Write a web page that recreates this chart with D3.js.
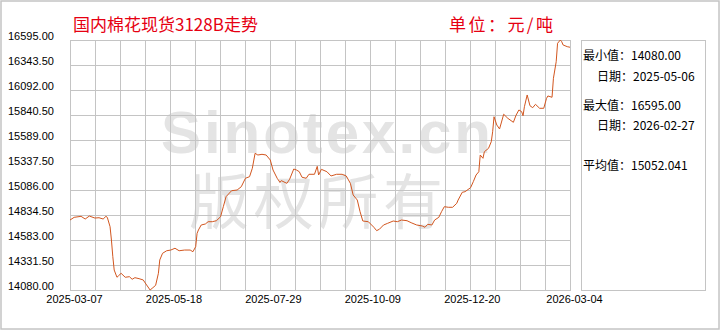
<!DOCTYPE html>
<html lang="zh">
<head>
    <meta charset="UTF-8">
    <title>国内棉花现货3128B走势</title>
    <style>
        body {
            margin: 0;
            background: #fff;
        }
        svg text {
            font-family: "Liberation Sans", Arial, sans-serif;
        }
        .cjk {
            font-family: "Noto Sans CJK SC", "Noto Sans", sans-serif !important;
        }
    </style>
</head>
<body>
    <div id="chart"></div>

    <script src="https://d3js.org/d3.v7.min.js"></script>
    <script>
        // 价格数据（日期 / 元每吨）
        const dates = [
            '2025-03-07', '2025-03-10', '2025-03-15', '2025-03-18', '2025-03-21', '2025-03-25', '2025-03-28', '2025-03-31',
            '2025-04-02', '2025-04-03', '2025-04-05', '2025-04-06', '2025-04-07', '2025-04-08', '2025-04-10', '2025-04-11',
            '2025-04-13', '2025-04-16', '2025-04-19', '2025-04-21', '2025-04-23', '2025-04-26', '2025-04-29', '2025-05-01',
            '2025-05-04', '2025-05-06', '2025-05-08', '2025-05-10', '2025-05-11', '2025-05-13', '2025-05-16', '2025-05-19',
            '2025-05-22', '2025-05-25', '2025-05-29', '2025-06-02', '2025-06-04', '2025-06-06', '2025-06-07', '2025-06-08',
            '2025-06-10', '2025-06-13', '2025-06-15', '2025-06-18', '2025-06-21', '2025-06-24', '2025-06-26', '2025-06-28',
            '2025-07-02', '2025-07-06', '2025-07-09', '2025-07-12', '2025-07-15', '2025-07-17', '2025-07-19', '2025-07-21',
            '2025-07-24', '2025-07-27', '2025-07-30', '2025-08-01', '2025-08-04', '2025-08-06', '2025-08-07', '2025-08-11',
            '2025-08-13', '2025-08-16', '2025-08-18', '2025-08-20', '2025-08-22', '2025-08-25', '2025-08-27', '2025-08-31',
            '2025-09-02', '2025-09-03', '2025-09-05', '2025-09-09', '2025-09-12', '2025-09-16', '2025-09-20', '2025-09-23',
            '2025-09-26', '2025-09-28', '2025-10-01', '2025-10-03', '2025-10-05', '2025-10-09', '2025-10-13', '2025-10-15',
            '2025-10-17', '2025-10-20', '2025-10-23', '2025-10-27', '2025-10-30', '2025-11-02', '2025-11-06', '2025-11-09',
            '2025-11-13', '2025-11-17', '2025-11-19', '2025-11-21', '2025-11-24', '2025-11-26', '2025-11-29', '2025-12-01',
            '2025-12-03', '2025-12-06', '2025-12-09', '2025-12-12', '2025-12-13', '2025-12-16', '2025-12-18', '2025-12-22',
            '2025-12-24', '2025-12-26', '2025-12-28', '2025-12-29', '2025-12-31', '2026-01-01', '2026-01-04', '2026-01-06',
            '2026-01-07', '2026-01-08', '2026-01-10', '2026-01-12', '2026-01-15', '2026-01-18', '2026-01-22', '2026-01-24',
            '2026-01-26', '2026-01-28', '2026-01-29', '2026-01-30', '2026-02-01', '2026-02-03', '2026-02-05', '2026-02-07',
            '2026-02-10', '2026-02-13', '2026-02-15', '2026-02-16', '2026-02-19', '2026-02-20', '2026-02-22', '2026-02-23',
            '2026-02-25', '2026-02-26', '2026-02-27', '2026-03-02', '2026-03-04'
        ];
        const prices = [
            14784, 14811, 14821, 14794, 14824, 14804, 14807, 14794,
            14821, 14811, 14717, 14583, 14415, 14281, 14208, 14221,
            14248, 14208, 14214, 14188, 14204, 14194, 14181, 14140,
            14080, 14103, 14127, 14248, 14382, 14449, 14475, 14482,
            14500, 14475, 14482, 14482, 14465, 14516, 14650, 14684,
            14734, 14744, 14767, 14767, 14777, 14817, 14918, 15019,
            15079, 15086, 15119, 15204, 15220, 15304, 15455, 15438,
            15445, 15438, 15388, 15287, 15204, 15163, 15180, 15153,
            15194, 15297, 15287, 15270, 15214, 15204, 15244, 15244,
            15324, 15237, 15294, 15270, 15227, 15244, 15244, 15227,
            15153, 15036, 14985, 14868, 14774, 14767, 14711, 14677,
            14691, 14734, 14751, 14774, 14767, 14784, 14777, 14757,
            14734, 14724, 14711, 14741, 14734, 14784, 14811, 14868,
            14918, 14912, 14912, 14952, 14985, 15063, 15069, 15109,
            15170, 15237, 15270, 15438, 15405, 15471, 15505, 15572,
            15672, 15823, 15740, 15700, 15848, 15807, 15767, 15840,
            15891, 15874, 15833, 15924, 16042, 15934, 15914, 15948,
            15908, 15908, 16008, 16032, 16019, 16210, 16377, 16562,
            16595, 16578, 16545, 16528, 16522
        ];

        const yTicks = [16595.00, 16343.50, 16092.00, 15840.50, 15589.00, 15337.50,
                        15086.00, 14834.50, 14583.00, 14331.50, 14080.00];
        const xTickDates = ['2025-03-07', '2025-05-18', '2025-07-29', '2025-10-09', '2025-12-20', '2026-03-04'];

        const statLabels = ['最小值：14080.00', '日期：2025-05-06', '最大值：16595.00', '日期：2026-02-27', '平均值：15052.041'];

        const W = 720, H = 330;
        const plot = {left: 70, right: 570, top: 40, bottom: 290};
        const parse = d3.timeParse('%Y-%m-%d');
        const data = dates.map((d, i) => ({date: parse(d), value: prices[i]}));

        const svg = d3.select('#chart')
                      .append('svg')
                      .attr('width', W)
                      .attr('height', H);

        // 外框
        svg.append('rect')
           .attr('x', 1).attr('y', 1)
           .attr('width', W - 2).attr('height', H - 2)
           .attr('fill', 'none')
           .attr('stroke', '#c4c4c4')
           .attr('stroke-width', 1.5);

        const x = d3.scaleTime()
                    .domain([parse(xTickDates[0]), parse(xTickDates[xTickDates.length - 1])])
                    .range([plot.left, plot.right]);

        const y = d3.scaleLinear()
                    .domain([yTicks[yTicks.length - 1], yTicks[0]])
                    .range([plot.bottom, plot.top]);

        // 竖向网格 20 格
        const gridX = d3.scaleLinear().domain([0, 20]).range([plot.left, plot.right]);

        // 水印（两行放在同一个 text 里）
        const mark = svg.append('text')
           .style('fill', '#e4e4e4');

        mark.append('tspan')
           .attr('x', 161).attr('y', 153)
           .attr('textLength', 330)
           .attr('lengthAdjust', 'spacing')
           .style('font-family', 'Arial, "Liberation Sans", sans-serif')
           .style('font-weight', 'bold')
           .style('font-size', '60px')
           .text('Sinotex.cn');

        mark.append('tspan')
           .attr('x', 189).attr('y', 224)
           .attr('textLength', 254)
           .attr('lengthAdjust', 'spacing')
           .style('font-family', '"Noto Sans CJK SC", sans-serif')
           .style('font-size', '60px')
           .text('版权所有');

        // 网格
        const grid = svg.append('g').attr('stroke', '#c4c4c4').attr('stroke-width', 1);

        grid.selectAll('.vg')
            .data(d3.range(0, 21))
            .enter()
            .append('line')
            .attr('x1', d => Math.round(gridX(d)) + 0.5)
            .attr('x2', d => Math.round(gridX(d)) + 0.5)
            .attr('y1', plot.top)
            .attr('y2', plot.bottom);

        grid.selectAll('.hg')
            .data(yTicks)
            .enter()
            .append('line')
            .attr('x1', plot.left)
            .attr('x2', plot.right + 1)
            .attr('y1', d => Math.round(y(d)) + 0.5)
            .attr('y2', d => Math.round(y(d)) + 0.5);

        // Y 轴标签
        const yAxis = svg.append('g')
           .attr('transform', 'translate(' + plot.left + ',0)')
           .call(d3.axisLeft(y).tickValues(yTicks).tickSize(0).tickFormat(d3.format('.2f')));
        yAxis.select('.domain').remove();
        yAxis.selectAll('text')
             .attr('x', -62)
             .attr('dy', '-0.05em')
             .style('text-anchor', 'start')
             .style('font-size', '11px')
             .style('fill', '#000');

        // X 轴标签
        const xAxis = svg.append('g')
           .attr('transform', 'translate(0,' + plot.bottom + ')')
           .call(d3.axisBottom(x).tickValues(xTickDates.map(parse)).tickSize(0).tickFormat(d3.timeFormat('%Y-%m-%d')));
        xAxis.select('.domain').remove();
        xAxis.selectAll('text')
             .attr('x', 4)
             .attr('y', 5)
             .style('font-size', '11px')
             .style('fill', '#000');

        // 价格曲线
        const line = d3.line()
                       .x(d => x(d.date))
                       .y(d => y(d.value));

        svg.append('path')
           .datum(data)
           .attr('fill', 'none')
           .attr('stroke', '#d2561f')
           .attr('stroke-width', 1)
           .attr('stroke-linejoin', 'round')
           .attr('d', line);

        // 标题
        svg.append('text')
           .attr('class', 'cjk')
           .attr('x', 73).attr('y', 31)
           .style('font-size', '17px')
           .style('fill', '#e60012')
           .text('国内棉花现货3128B走势');

        svg.append('text')
           .attr('class', 'cjk')
           .attr('x', 449).attr('y', 31)
           .attr('textLength', 104)
           .attr('lengthAdjust', 'spacing')
           .style('font-size', '17px')
           .style('fill', '#e60012')
           .text('单位：元/吨');

        // 统计框
        svg.append('rect')
           .attr('x', 581.5).attr('y', 40.5)
           .attr('width', 124).attr('height', 250)
           .attr('fill', 'none')
           .attr('stroke', '#c4c4c4');

        const statPos = [[583, 60], [597, 81], [583, 110], [597, 130], [583, 170]];
        svg.selectAll('.stat')
           .data(statLabels)
           .enter()
           .append('text')
           .attr('class', 'cjk')
           .attr('x', (d, i) => statPos[i][0])
           .attr('y', (d, i) => statPos[i][1])
           .style('font-size', '12px')
           .style('fill', '#000')
           .text(d => d);
    </script>
</body>
</html>
